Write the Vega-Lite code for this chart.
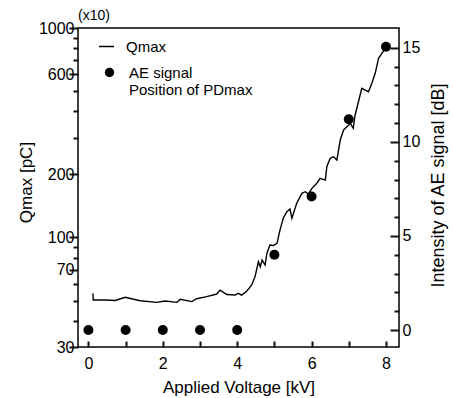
{
  "$schema": "https://vega.github.io/schema/vega-lite/v6.json",
  "width": 321,
  "height": 319,
  "autosize": {"type": "none"},
  "padding": {"left": 78, "top": 28, "right": 54, "bottom": 51},
  "background": "white",
  "title": {"text": "(x10)", "anchor": "start", "frame": "group", "fontSize": 14, "fontWeight": "normal", "font": "Liberation Sans", "color": "black", "baseline": "alphabetic", "offset": -14},
  "datasets": {
    "qmax": [
      {"V": 0.12, "Q": 54.1}, {"V": 0.13, "Q": 50.3}, {"V": 0.45, "Q": 50.3}, {"V": 0.72, "Q": 50.0},
      {"V": 0.99, "Q": 51.8}, {"V": 1.39, "Q": 49.9}, {"V": 1.84, "Q": 49.0}, {"V": 2.06, "Q": 49.7},
      {"V": 2.38, "Q": 49.0}, {"V": 2.47, "Q": 50.7}, {"V": 2.78, "Q": 49.4}, {"V": 2.91, "Q": 51.0},
      {"V": 3.18, "Q": 52.2}, {"V": 3.45, "Q": 53.7}, {"V": 3.54, "Q": 56.1}, {"V": 3.72, "Q": 53.4},
      {"V": 3.94, "Q": 53.1}, {"V": 4.03, "Q": 54.1}, {"V": 4.12, "Q": 53.1}, {"V": 4.26, "Q": 55.5},
      {"V": 4.39, "Q": 59.3}, {"V": 4.48, "Q": 65.0}, {"V": 4.57, "Q": 76.6}, {"V": 4.62, "Q": 72.5},
      {"V": 4.67, "Q": 78.1}, {"V": 4.75, "Q": 73.9}, {"V": 4.80, "Q": 84.1}, {"V": 4.88, "Q": 92.0},
      {"V": 4.97, "Q": 91.5}, {"V": 5.07, "Q": 93.8}, {"V": 5.15, "Q": 108.5}, {"V": 5.24, "Q": 123.8},
      {"V": 5.33, "Q": 132.3}, {"V": 5.42, "Q": 136.7}, {"V": 5.47, "Q": 123.5}, {"V": 5.60, "Q": 145.6},
      {"V": 5.74, "Q": 162.5}, {"V": 5.83, "Q": 165.4}, {"V": 5.91, "Q": 161.3}, {"V": 6.01, "Q": 171.6},
      {"V": 6.14, "Q": 181.3}, {"V": 6.23, "Q": 191.6}, {"V": 6.37, "Q": 188.0}, {"V": 6.41, "Q": 217.6},
      {"V": 6.50, "Q": 238.7}, {"V": 6.59, "Q": 242.9}, {"V": 6.68, "Q": 234.2}, {"V": 6.77, "Q": 291.9},
      {"V": 6.86, "Q": 325.9}, {"V": 6.95, "Q": 337.9}, {"V": 7.04, "Q": 350.6}, {"V": 7.12, "Q": 332.0},
      {"V": 7.17, "Q": 384.3}, {"V": 7.26, "Q": 444.7}, {"V": 7.35, "Q": 515.2}, {"V": 7.44, "Q": 505.8},
      {"V": 7.53, "Q": 496.5}, {"V": 7.62, "Q": 544.4}, {"V": 7.71, "Q": 607.5}, {"V": 7.80, "Q": 716.5},
      {"V": 7.89, "Q": 757.2}, {"V": 7.98, "Q": 799.9}
    ],
    "ae": [
      {"V": 0, "dB": 0}, {"V": 1, "dB": 0}, {"V": 2, "dB": 0}, {"V": 3, "dB": 0}, {"V": 4, "dB": 0},
      {"V": 5, "dB": 4.0}, {"V": 6, "dB": 7.1}, {"V": 7, "dB": 11.2}, {"V": 8, "dB": 15.05}
    ]
  },
  "encoding": {
    "x": {
      "field": "V", "type": "quantitative",
      "scale": {"domain": [-0.28, 8.35], "nice": false, "zero": false},
      "axis": {
        "title": "Applied Voltage [kV]",
        "values": [0, 1, 2, 3, 4, 5, 6, 7, 8],
        "labelExpr": "datum.value % 2 == 0 ? datum.label : ''",
        "tickSize": {"condition": {"test": "datum.value % 2 == 0", "value": -6}, "value": -6},
        "tickColor": "#111111",
        "tickWidth": 2,
        "labelPadding": 14,
        "titleY": 45,
        "titleBaseline": "alphabetic"
      }
    }
  },
  "layer": [
    {
      "data": {"name": "qmax"},
      "mark": {"type": "line", "strokeWidth": 1.4},
      "encoding": {
        "y": {
          "field": "Q", "type": "quantitative",
          "scale": {"type": "log", "domain": [30, 1000], "nice": false},
          "axis": {
            "orient": "left",
            "title": "Qmax [pC]",
            "format": "d",
            "values": [30, 40, 50, 60, 70, 80, 90, 100, 200, 300, 400, 500, 600, 700, 800, 900, 1000],
            "labelExpr": "indexof([30, 70, 100, 200, 600, 1000], datum.value) >= 0 ? datum.label : ''",
            "tickSize": {"condition": {"test": "indexof([30, 70, 100, 200, 600, 1000], datum.value) >= 0", "value": 9}, "value": 5},
            "tickColor": "#111111",
            "tickWidth": 2,
            "labelPadding": -5,
            "titleX": -47,
            "titleY": 154,
            "titleAngle": -90,
            "titleAlign": "center",
            "titleBaseline": "alphabetic"
          }
        },
        "color": {
          "datum": "Qmax",
          "scale": {"domain": ["Qmax"], "range": ["black"]},
          "legend": {
            "title": null,
            "orient": "none",
            "legendX": 20,
            "legendY": 10,
            "padding": 0,
            "symbolType": "stroke",
            "symbolSize": 225,
            "symbolStrokeWidth": 1.5,
            "labelOffset": 11,
            "labelFontSize": 15,
            "labelFont": "Liberation Sans",
            "labelColor": "black"
          }
        }
      }
    },
    {
      "data": {"name": "ae"},
      "mark": {"type": "point", "filled": true, "color": "black", "size": 100, "opacity": 1},
      "encoding": {
        "y": {
          "field": "dB", "type": "quantitative",
          "scale": {"domain": [-0.9, 16.05], "nice": false, "zero": false},
          "axis": {
            "orient": "right",
            "title": "Intensity of AE signal [dB]",
            "values": [0, 1, 2, 3, 4, 5, 6, 7, 8, 9, 10, 11, 12, 13, 14, 15],
            "labelExpr": "datum.value % 5 == 0 ? datum.label : ''",
            "tickSize": {"condition": {"test": "datum.value % 5 == 0", "value": -9}, "value": -5},
            "tickColor": "#111111",
            "tickWidth": 2,
            "labelPadding": 12,
            "titleX": 44,
            "titleY": 157,
            "titleAngle": -90,
            "titleAlign": "center",
            "titleBaseline": "alphabetic",
            "titleFontSize": 18
          }
        },
        "shape": {
          "datum": "AE signal",
          "scale": {"domain": ["AE signal"], "range": ["circle"]},
          "legend": {
            "title": null,
            "orient": "none",
            "legendX": 24,
            "legendY": 37,
            "padding": 0,
            "symbolSize": 90,
            "symbolFillColor": "black",
            "labelOffset": 12,
            "labelFontSize": 15,
            "labelFont": "Liberation Sans",
            "labelColor": "black",
            "labelExpr": "['AE signal', 'Position of PDmax']",
            "encode": {
              "labels": {"update": {"lineHeight": {"value": 19}}}
            }
          }
        }
      }
    }
  ],
  "resolve": {"scale": {"y": "independent"}},
  "config": {
    "font": "Liberation Sans",
    "view": {"stroke": "black", "strokeWidth": 1.5},
    "axis": {
      "domain": false,
      "grid": false,
      "labelColor": "black",
      "labelFontSize": 16,
      "labelFont": "Liberation Sans",
      "titleColor": "black",
      "titleFontSize": 17,
      "titleFont": "Liberation Sans",
      "titleFontWeight": "normal"
    }
  }
}
